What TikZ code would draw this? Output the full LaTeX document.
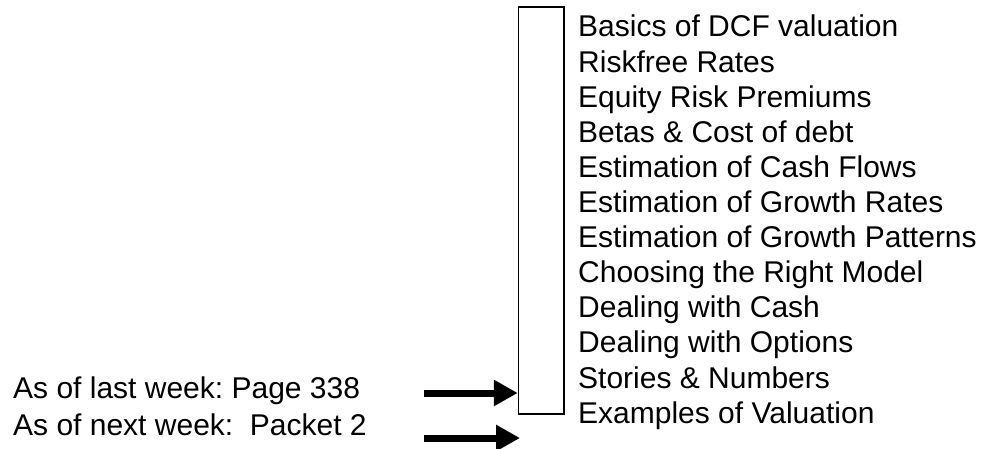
\documentclass[tikz,border=0pt]{standalone}
\usepackage{fontspec}
\setmainfont{Liberation Sans}
\usetikzlibrary{arrows.meta}
\begin{document}
\frenchspacing
\begin{tikzpicture}[x=1pt,y=-1pt,
  lbl/.style={anchor=base west,inner sep=0pt,font=\fontsize{30}{35}\selectfont},
  fatarrow/.style={line width=7pt,-{Triangle[length=24pt,width=25pt]}}]
\useasboundingbox (0,0) rectangle (981,449);
\node[draw,line width=1.5pt,minimum width=45.5pt,minimum height=407pt,inner sep=0pt] (box) at (541.25,210.5) {};
\foreach \t [count=\i from 0] in {Basics of DCF valuation,Riskfree Rates,Equity Risk Premiums,Betas \& Cost of debt,Estimation of Cash Flows,Estimation of Growth Rates,Estimation of Growth Patterns,Choosing the Right Model,Dealing with Cash,Dealing with Options,Stories \& Numbers,Examples of Valuation}
  \node[lbl] (l\i) at (578,37+35.1*\i) {\t};
\node[lbl] (w1) at (13,398) {As of last week: Page 338};
\node[lbl] (w2) at (13,435) {As of next week:\ \ Packet 2};
\coordinate (a1) at (424,393);
\coordinate (a2) at (424,438);
\coordinate (t2) at (520,438);
\draw[fatarrow] (a1) -- (a1 -| box.west);
\draw[fatarrow] (a2) -- (t2);
\end{tikzpicture}
\end{document}
